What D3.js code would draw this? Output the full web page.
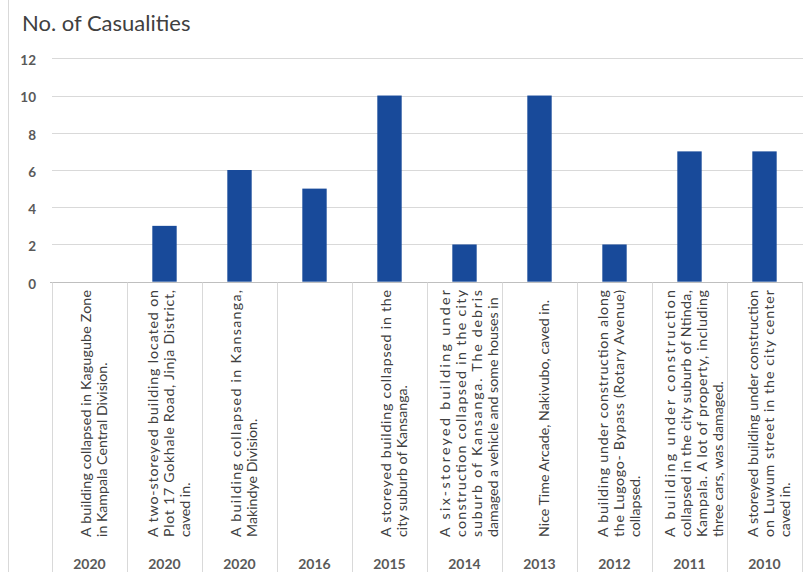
<!DOCTYPE html>
<html>
<head>
<meta charset="utf-8">
<script src="https://cdn.jsdelivr.net/npm/d3@7"></script>
<style>
  html, body { margin: 0; padding: 0; background: #fff; }
  svg { display: block; }
</style>
</head>
<body>
<svg id="chart" width="805" height="577"></svg>
<script>
// ---- data ----
const years = ["2020", "2020", "2020", "2016", "2015", "2014", "2013", "2012", "2011", "2010"];
const descriptions = [
  ["A building collapsed in Kagugube Zone", "in Kampala Central Division."],
  ["A two-storeyed building located on", "Plot 17 Gokhale Road, Jinja District,", "caved in."],
  ["A building collapsed in Kansanga,", "Makindye Division."],
  [],
  ["A storeyed building collapsed in the", "city suburb of Kansanga."],
  ["A six-storeyed building under", "construction collapsed in the city", "suburb of Kansanga. The debris", "damaged a vehicle and some houses in"],
  ["Nice Time Arcade, Nakivubo, caved in."],
  ["A building under construction along", "the Lugogo- Bypass (Rotary Avenue)", "collapsed."],
  ["A building under construction", "collapsed in the city suburb of Ntinda,", "Kampala. A lot of property, including", "three cars, was damaged."],
  ["A storeyed building under construction", "on Luwum street in the city center", "caved in."]
];
const casualties = [0, 3, 6, 5, 10, 2, 10, 2, 7, 7];
const yTicks = [0, 2, 4, 6, 8, 10, 12];
const title = "No. of Casualities";

// ---- layout ----
const svg = d3.select("#chart");
const font = "Lato, 'Open Sans', sans-serif";
const pLeft = 52, pRight = 802, pTop = 58.3, pBottom = 281.7;
const idx = d3.range(years.length);

const xCat = d3.scaleBand().domain(idx).range([pLeft, pRight]).padding(0);
const xBar = d3.scaleBand().domain(idx).range([pLeft, pRight]).paddingInner(0.675).paddingOuter(0.3375);
const y = d3.scaleLinear().domain([0, 12]).range([pBottom, pTop]);

// left border of the chart area
svg.append("line").attr("x1", 8.5).attr("x2", 8.5).attr("y1", 0).attr("y2", 572)
  .attr("stroke", "#d9d9d9").attr("stroke-width", 1);

// title
svg.append("text").attr("x", 22).attr("y", 31)
  .attr("font-family", font).attr("font-size", 22).attr("fill", "#404040")
  .text(title);

// gridlines
svg.append("g").selectAll("line").data(yTicks.filter(d => d > 0)).join("line")
  .attr("x1", pLeft).attr("x2", pRight + 1)
  .attr("y1", d => Math.round(y(d)) + 0.5).attr("y2", d => Math.round(y(d)) + 0.5)
  .attr("stroke", "#d9d9d9").attr("stroke-width", 1);

// y axis labels via d3 axis
const yAxis = svg.append("g").attr("transform", `translate(36,2)`)
  .call(d3.axisLeft(y).tickValues(yTicks).tickSize(0).tickPadding(0));
yAxis.select(".domain").remove();
yAxis.selectAll("text").attr("font-family", font).attr("font-size", 13.5)
  .attr("font-weight", "bold").attr("fill", "#595959");

// bars
svg.append("g").selectAll("rect").data(idx).join("rect")
  .attr("x", i => xBar(i)).attr("width", xBar.bandwidth())
  .attr("y", i => y(casualties[i])).attr("height", i => y(0) - y(casualties[i]))
  .attr("fill", "#184a9a");

// x axis line
svg.append("line").attr("x1", pLeft - 2).attr("x2", pRight + 1)
  .attr("y1", Math.round(pBottom) + 0.5).attr("y2", Math.round(pBottom) + 0.5)
  .attr("stroke", "#bfbfbf").attr("stroke-width", 1);

// category separators
const seps = idx.map(i => xCat(i)).concat([pRight]);
svg.append("g").selectAll("line").data(seps).join("line")
  .attr("x1", d => Math.round(d) + 0.5).attr("x2", d => Math.round(d) + 0.5)
  .attr("y1", Math.round(pBottom) + 0.5).attr("y2", 572)
  .attr("stroke", "#d9d9d9").attr("stroke-width", 1);

// year labels
svg.append("g").selectAll("text").data(idx).join("text")
  .attr("x", i => xCat(i) + xCat.bandwidth() / 2).attr("y", 564)
  .attr("dy", "0.35em").attr("text-anchor", "middle")
  .attr("font-family", font).attr("font-size", 14).attr("font-weight", "bold")
  .attr("fill", "#595959")
  .text(i => years[i]);

// rotated, justified description lines
const textBottom = 537, textTop = 290, lineH = 16;
const fullLen = textBottom - textTop;
const descG = svg.append("g");
idx.forEach(i => {
  const lines = descriptions[i];
  const n = lines.length;
  if (!n) return;
  const center = xCat(i) + 41;
  lines.forEach((ln, j) => {
    const cx = center + (j - (n - 1) / 2) * lineH;
    const t = descG.append("text")
      .attr("transform", `translate(${cx},${textBottom}) rotate(-90)`)
      .attr("dominant-baseline", "central")
      .attr("font-family", font).attr("font-size", 14.2).attr("fill", "#404040")
      .text(ln);
    const L = t.node().getComputedTextLength();
    if (j < n - 1) {
      t.attr("textLength", fullLen).attr("lengthAdjust", L > fullLen ? "spacingAndGlyphs" : "spacing");
    } else if (L > fullLen) {
      t.attr("textLength", fullLen).attr("lengthAdjust", "spacingAndGlyphs");
    }
  });
});
</script>
</body>
</html>
